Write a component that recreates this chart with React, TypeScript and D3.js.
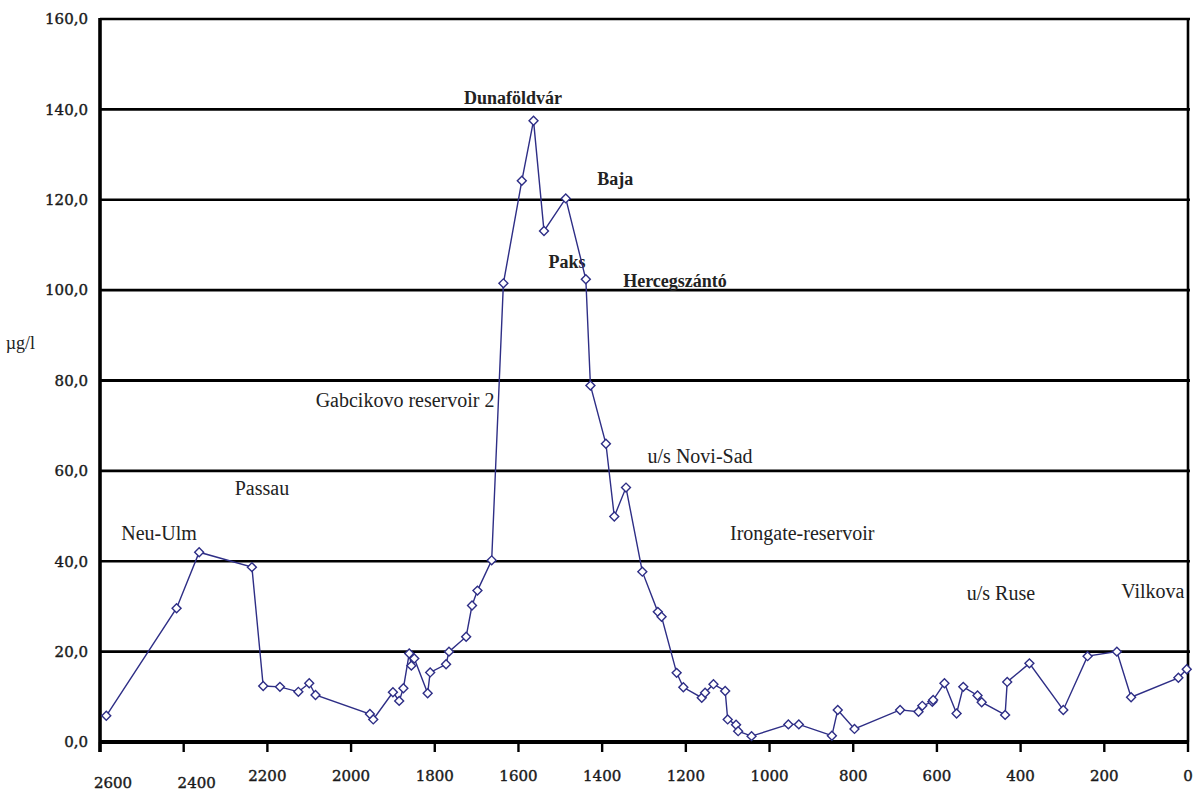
import React from "react";
import * as d3 from "d3";

const kmValues = [2585, 2417, 2363, 2237, 2210, 2170, 2126, 2100, 2085, 1955, 1947, 1900, 1885, 1875, 1861, 1856, 1849, 1817, 1811, 1773, 1766, 1725, 1711, 1698, 1664, 1636, 1592, 1564, 1539, 1487, 1439, 1428, 1391, 1371, 1343, 1304, 1267, 1258, 1222, 1206, 1162, 1154, 1134, 1106, 1100, 1080, 1075, 1043, 955, 930, 851, 837, 797, 688, 644, 635, 611, 609, 582, 553, 537, 503, 493, 437, 432, 379, 298, 240, 170, 136, 23, 3];
const concValues = [5.8, 29.6, 42.0, 38.7, 12.4, 12.2, 11.1, 13.0, 10.4, 6.2, 5.0, 11.0, 9.1, 11.9, 19.6, 16.9, 18.5, 10.8, 15.4, 17.2, 20.0, 23.3, 30.2, 33.5, 40.2, 101.5, 124.2, 137.5, 113.1, 120.3, 102.4, 78.9, 66.0, 49.9, 56.3, 37.7, 28.8, 27.7, 15.3, 12.1, 9.8, 10.9, 12.8, 11.3, 5.0, 3.8, 2.4, 1.3, 3.9, 3.9, 1.4, 7.1, 2.9, 7.1, 6.7, 8.0, 8.9, 9.3, 13.0, 6.3, 12.2, 10.3, 8.8, 6.0, 13.3, 17.4, 7.1, 19.0, 20.0, 9.9, 14.2, 16.1];

const xTicks = [2600, 2400, 2200, 2000, 1800, 1600, 1400, 1200, 1000, 800, 600, 400, 200, 0];
const yTicks = [0, 20, 40, 60, 80, 100, 120, 140, 160];

const labelTexts = ["Dunaföldvár", "Baja", "Paks", "Hercegszántó", "Gabcikovo reservoir 2", "u/s Novi-Sad", "Passau", "Neu-Ulm", "Irongate-reservoir", "u/s Ruse", "Vilkova"];
const labelKm = [1613, 1369, 1484, 1226, 1871, 1166, 2213, 2459, 922, 447, 84];
const labelVal = [141.2, 123.3, 104.9, 100.7, 74.1, 61.7, 54.7, 44.7, 44.7, 31.4, 31.9];
const labelBold = [true, true, true, true, false, false, false, false, false, false, false];

const W = 1195;
const H = 791;
const LEFT = 100;
const RIGHT = 1188;
const TOP = 19;
const BOTTOM = 742;
const LINE = "#2e2e86";

export default function App() {
  const x = d3.scaleLinear().domain([2600, 0]).range([LEFT, RIGHT]);
  const y = d3.scaleLinear().domain([0, 160]).range([BOTTOM, TOP]);
  const pts = kmValues.map((k, i) => [x(k), y(concValues[i])] as [number, number]);
  const path = d3.line()(pts) || "";
  const diamond = d3.symbol(d3.symbolSquare, 40)() || "";
  const fmt = (v: number) => v.toFixed(1).replace(".", ",");

  return (
    <svg width={W} height={H} style={{ position: "absolute", left: 0, top: 0, background: "#fff" }}>
      <rect x={0} y={0} width={W} height={H} fill="#fff" />
      {yTicks.filter((t) => t > 0).map((t) => (
        <line key={t} x1={LEFT} x2={RIGHT + 2} y1={y(t)} y2={y(t)} stroke="#000" strokeWidth={t === 80 ? 3.2 : 2.7} />
      ))}
      <line x1={RIGHT} x2={RIGHT} y1={TOP} y2={BOTTOM} stroke="#000" strokeWidth={2.6} />
      <line x1={LEFT} x2={RIGHT} y1={BOTTOM} y2={BOTTOM} stroke="#000" strokeWidth={4.2} />
      <line x1={LEFT} x2={LEFT} y1={TOP - 1} y2={BOTTOM + 10} stroke="#000" strokeWidth={3.6} />
      {xTicks.map((t) => (
        <line key={t} x1={x(t)} x2={x(t)} y1={BOTTOM} y2={BOTTOM + 10} stroke="#000" strokeWidth={2.4} />
      ))}
      {yTicks.map((t) => (
        <text key={t} x={LEFT - 12} y={y(t)} dy="0.35em" textAnchor="end" fontFamily="'DejaVu Serif', serif" fontSize={15} fill="#1a1a1a" stroke="#1a1a1a" strokeWidth={0.4}>
          {fmt(t)}
        </text>
      ))}
      {xTicks.map((t) => {
        const shifted = t >= 2400;
        return (
          <text key={t} x={x(t) + (shifted ? 13 : 0)} y={BOTTOM + (shifted ? 46 : 39)} textAnchor="middle" fontFamily="'DejaVu Serif', serif" fontSize={15} fill="#1a1a1a" stroke="#1a1a1a" strokeWidth={0.4}>
            {t}
          </text>
        );
      })}
      <text x={35} y={349} textAnchor="end" fontFamily="'Liberation Serif', serif" fontSize={18} fill="#222">µg/l</text>
      {labelTexts.map((s, i) => (
        <text key={s} x={x(labelKm[i])} y={y(labelVal[i])} textAnchor="middle"
          fontFamily="'Liberation Serif', serif" fontSize={labelBold[i] ? 18 : 20} fontWeight={labelBold[i] ? "bold" : "normal"} fill="#222">
          {s}
        </text>
      ))}
      <path d={path} fill="none" stroke={LINE} strokeWidth={1.4} />
      {pts.map((p, i) => (
        <path key={i} d={diamond} transform={`translate(${p[0]},${p[1]}) rotate(45)`} fill="#fff" stroke={LINE} strokeWidth={1.4} />
      ))}
    </svg>
  );
}
